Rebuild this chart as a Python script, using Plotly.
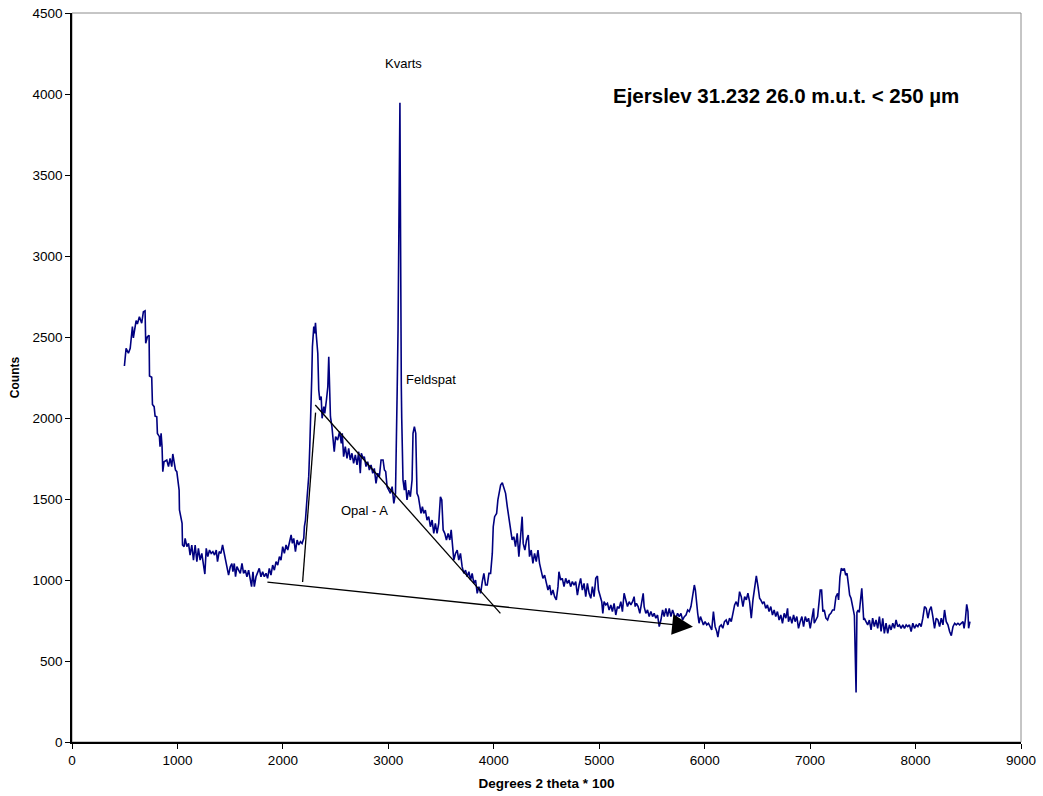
import plotly.graph_objects as go

# Diffractogram, Ejerslev 31.232, 26.0 m.u.t., fraction < 250 µm
two_theta_x100 = [
    497, 513, 535, 552, 573, 582, 608, 620, 639, 661, 677, 693, 699, 715, 731, 735, 756, 763, 779, 788,
    804, 810, 829, 835, 845, 854, 861, 873, 899, 915, 930, 946, 956, 968, 981, 994, 1003, 1016, 1019, 1035,
    1044, 1048, 1063, 1073, 1089, 1105, 1120, 1136, 1152, 1168, 1184, 1199, 1215, 1231, 1247, 1260, 1273, 1288, 1304, 1320,
    1336, 1352, 1368, 1380, 1396, 1412, 1428, 1444, 1456, 1469, 1485, 1501, 1516, 1526, 1539, 1551, 1564, 1580, 1596, 1612,
    1627, 1643, 1659, 1675, 1691, 1703, 1716, 1729, 1745, 1760, 1776, 1792, 1808, 1824, 1840, 1855, 1871, 1887, 1903, 1919,
    1935, 1951, 1967, 1982, 1998, 2014, 2030, 2046, 2062, 2078, 2090, 2103, 2119, 2135, 2150, 2166, 2182, 2198, 2204, 2214,
    2230, 2245, 2255, 2268, 2274, 2280, 2293, 2302, 2309, 2318, 2331, 2340, 2350, 2363, 2372, 2388, 2397, 2413, 2426, 2435,
    2445, 2451, 2465, 2474, 2487, 2500, 2519, 2538, 2554, 2563, 2576, 2592, 2608, 2624, 2639, 2655, 2671, 2687, 2703, 2719,
    2734, 2744, 2760, 2772, 2788, 2804, 2820, 2836, 2852, 2867, 2883, 2899, 2915, 2931, 2950, 2963, 2975, 2988, 3004, 3020,
    3036, 3052, 3068, 3077, 3084, 3092, 3100, 3106, 3110, 3113, 3116, 3119, 3123, 3127, 3132, 3139, 3152, 3161, 3177, 3193,
    3209, 3225, 3234, 3247, 3260, 3272, 3285, 3298, 3310, 3323, 3336, 3351, 3367, 3383, 3399, 3415, 3431, 3446, 3462, 3478,
    3494, 3507, 3520, 3535, 3551, 3567, 3583, 3596, 3608, 3621, 3637, 3653, 3668, 3684, 3700, 3716, 3732, 3748, 3764, 3780,
    3795, 3811, 3827, 3843, 3859, 3875, 3891, 3906, 3922, 3938, 3954, 3970, 3986, 3995, 4008, 4027, 4039, 4052, 4065, 4081,
    4096, 4112, 4128, 4144, 4158, 4174, 4190, 4206, 4222, 4238, 4254, 4269, 4279, 4295, 4311, 4327, 4339, 4355, 4371, 4387,
    4403, 4419, 4434, 4450, 4466, 4482, 4498, 4514, 4530, 4545, 4561, 4577, 4593, 4609, 4618, 4634, 4650, 4666, 4682, 4698,
    4713, 4729, 4745, 4761, 4777, 4793, 4809, 4824, 4840, 4856, 4872, 4888, 4904, 4920, 4935, 4951, 4967, 4983, 4993, 5008,
    5024, 5034, 5046, 5062, 5078, 5094, 5110, 5125, 5141, 5157, 5173, 5189, 5205, 5220, 5236, 5252, 5268, 5284, 5300, 5316,
    5331, 5341, 5353, 5369, 5385, 5401, 5417, 5426, 5442, 5458, 5474, 5490, 5506, 5521, 5537, 5553, 5569, 5585, 5601, 5616,
    5632, 5648, 5664, 5680, 5696, 5712, 5727, 5743, 5759, 5775, 5791, 5807, 5823, 5839, 5854, 5870, 5886, 5902, 5912, 5922,
    5934, 5947, 5960, 5972, 5988, 6004, 6020, 6036, 6051, 6067, 6083, 6099, 6115, 6125, 6141, 6157, 6172, 6188, 6204, 6220,
    6236, 6252, 6268, 6284, 6299, 6315, 6331, 6347, 6363, 6379, 6395, 6410, 6426, 6442, 6458, 6474, 6490, 6506, 6521, 6532,
    6548, 6563, 6579, 6595, 6611, 6627, 6643, 6659, 6674, 6690, 6706, 6722, 6738, 6754, 6770, 6786, 6795, 6811, 6827, 6843,
    6858, 6874, 6890, 6906, 6922, 6938, 6954, 6970, 6985, 7001, 7017, 7033, 7039, 7055, 7071, 7087, 7096, 7109, 7121, 7134,
    7150, 7166, 7181, 7197, 7213, 7229, 7245, 7261, 7270, 7283, 7296, 7312, 7324, 7337, 7350, 7362, 7375, 7388, 7400, 7413,
    7420, 7428, 7436, 7444, 7455, 7466, 7478, 7490, 7500, 7508, 7514, 7530, 7546, 7562, 7578, 7593, 7609, 7625, 7641, 7657,
    7673, 7689, 7704, 7720, 7736, 7752, 7768, 7784, 7800, 7815, 7831, 7847, 7863, 7879, 7895, 7911, 7926, 7942, 7958, 7974,
    7990, 8006, 8022, 8037, 8053, 8069, 8085, 8101, 8117, 8133, 8148, 8164, 8180, 8196, 8212, 8228, 8244, 8260, 8275, 8291,
    8307, 8323, 8339, 8355, 8371, 8386, 8402, 8418, 8434, 8450, 8460, 8472, 8485, 8497, 8503, 8516,
]

counts = [
    2321, 2430, 2400, 2430, 2564, 2494, 2601, 2580, 2625, 2585, 2656, 2662, 2461, 2502, 2510, 2259, 2251, 2084, 2070, 2012,
    2008, 1905, 1885, 1823, 1905, 1823, 1669, 1730, 1741, 1700, 1751, 1700, 1778, 1720, 1679, 1669, 1617, 1555, 1432, 1370,
    1350, 1216, 1206, 1257, 1206, 1226, 1154, 1216, 1123, 1216, 1113, 1195, 1123, 1164, 1102, 1037, 1195, 1144, 1185, 1164,
    1175, 1154, 1185, 1113, 1175, 1164, 1216, 1164, 1133, 1082, 1030, 1082, 1102, 1051, 1102, 1020, 1082, 1061, 1041, 1102,
    1041, 1061, 1020, 1061, 1010, 959, 1051, 959, 1020, 1041, 1072, 1020, 1051, 1020, 1041, 1010, 1072, 1030, 1092, 1061,
    1113, 1092, 1144, 1123, 1206, 1164, 1216, 1185, 1226, 1278, 1226, 1257, 1175, 1247, 1216, 1237, 1226, 1257, 1329, 1370,
    1514, 1638, 1823, 2050, 2255, 2440, 2564, 2523, 2588, 2502, 2400, 2173, 2111, 2132, 1998, 2070, 2029, 2111, 2193, 2378,
    2173, 2008, 1947, 1864, 1792, 1885, 1864, 1916, 1843, 1905, 1761, 1823, 1751, 1813, 1741, 1782, 1720, 1772, 1710, 1792,
    1659, 1782, 1751, 1761, 1700, 1730, 1679, 1710, 1659, 1689, 1597, 1659, 1638, 1741, 1741, 1679, 1669, 1576, 1555, 1535,
    1576, 1473, 1535, 1802, 2173, 2540, 3360, 3700, 3946, 3500, 2600, 2250, 2200, 2000, 1741, 1617, 1555, 1617, 1494, 1555,
    1514, 1617, 1905, 1947, 1905, 1535, 1514, 1453, 1411, 1453, 1411, 1432, 1370, 1391, 1329, 1370, 1288, 1350, 1288, 1350,
    1514, 1494, 1309, 1288, 1247, 1288, 1247, 1309, 1206, 1123, 1164, 1185, 1123, 1164, 1082, 1041, 1061, 1020, 1051, 1000,
    1041, 979, 1000, 918, 959, 918, 990, 1041, 969, 969, 1041, 1041, 1164, 1329, 1391, 1411, 1494, 1555, 1586, 1600,
    1566, 1535, 1453, 1391, 1309, 1247, 1267, 1206, 1288, 1144, 1267, 1391, 1226, 1185, 1247, 1278, 1144, 1185, 1103, 1164,
    1113, 1185, 1103, 1051, 1010, 1030, 979, 938, 969, 907, 938, 897, 877, 959, 1051, 1000, 1010, 959, 1010, 979,
    1000, 959, 990, 969, 990, 907, 969, 1010, 938, 979, 897, 979, 918, 887, 959, 897, 1010, 1025, 938, 897,
    866, 794, 866, 846, 856, 815, 846, 805, 856, 784, 836, 825, 866, 805, 918, 877, 836, 866, 846, 866,
    897, 836, 856, 836, 794, 856, 918, 836, 794, 815, 774, 805, 774, 794, 764, 784, 712, 753, 815, 774,
    825, 774, 825, 774, 815, 784, 764, 794, 774, 794, 753, 774, 784, 815, 805, 836, 897, 969, 938, 856,
    794, 733, 774, 753, 723, 743, 723, 733, 712, 692, 805, 712, 682, 647, 712, 723, 702, 743, 753, 723,
    764, 743, 794, 846, 866, 836, 928, 897, 836, 897, 877, 918, 866, 764, 877, 959, 1025, 959, 887, 877,
    856, 866, 825, 846, 805, 836, 784, 815, 774, 805, 753, 784, 733, 794, 764, 825, 743, 774, 733, 784,
    743, 774, 702, 743, 774, 712, 774, 743, 764, 702, 774, 825, 733, 753, 774, 877, 938, 938, 805, 815,
    764, 753, 784, 794, 815, 815, 897, 918, 877, 1020, 1072, 1061, 1072, 1030, 1041, 979, 907, 887, 856, 805,
    780, 560, 305, 800, 815, 800, 877, 948, 846, 753, 764, 743, 723, 753, 692, 764, 712, 753, 702, 774,
    682, 764, 671, 733, 671, 723, 692, 733, 702, 753, 712, 723, 702, 723, 702, 723, 712, 723, 682, 733,
    702, 723, 712, 733, 712, 764, 836, 825, 764, 815, 836, 774, 702, 764, 753, 712, 764, 723, 815, 743,
    723, 682, 657, 712, 733, 723, 733, 723, 733, 743, 702, 753, 850, 805, 702, 743,
]

# Construction lines: baseline under the opal hump and its two flanks
baseline = {"x0": 1839, "y0": 988, "x1": 5889, "y1": 712}
left_flank = {"x0": 2187, "y0": 988, "x1": 2310, "y1": 2033}
right_flank = {"x0": 2307, "y0": 2080, "x1": 4063, "y1": 794}

FONT = "Liberation Sans, Arial, sans-serif"

fig = go.Figure()
fig.add_trace(go.Scatter(
    x=two_theta_x100, y=counts, mode="lines",
    line=dict(color="#000080", width=1.6),
    showlegend=False, hoverinfo="x+y",
))

line_style = dict(color="black", width=1.3)
for seg in (left_flank, right_flank):
    fig.add_shape(type="line", xref="x", yref="y", line=line_style, **seg)

# baseline with filled arrow head at its right end
fig.add_annotation(
    x=baseline["x1"], y=baseline["y1"], ax=baseline["x0"], ay=baseline["y0"],
    xref="x", yref="y", axref="x", ayref="y",
    text="", showarrow=True, arrowhead=2, arrowsize=3.2, arrowwidth=1.3,
    arrowcolor="black",
)

labels = [
    dict(text="Kvarts", x=3142, y=4191, xanchor="center"),
    dict(text="Feldspat", x=3152, y=2235, xanchor="left"),
    dict(text="Opal - A", x=2772, y=1432, xanchor="center"),
]
for lab in labels:
    fig.add_annotation(
        x=lab["x"], y=lab["y"], xref="x", yref="y", text=lab["text"],
        xanchor=lab["xanchor"], yanchor="middle", showarrow=False,
        font=dict(family=FONT, size=13, color="black"),
    )

fig.add_annotation(
    x=6769, y=3988, xref="x", yref="y",
    text="<b>Ejerslev 31.232 26.0 m.u.t. &lt; 250 µm</b>",
    showarrow=False, xanchor="center", yanchor="middle",
    font=dict(family=FONT, size=20.5, color="black"),
)

# grey frame around the plotting area
fig.add_shape(type="rect", xref="paper", yref="paper", x0=0, y0=0, x1=1, y1=1,
              line=dict(color="#8c8c8c", width=1), layer="below")

axis_common = dict(
    showgrid=False, zeroline=False, showline=True, linecolor="black", linewidth=1.5,
    ticks="outside", ticklen=5, tickwidth=1.3, tickcolor="black", automargin=False,
    tickfont=dict(family=FONT, size=13.5, color="black"),
)

fig.update_xaxes(range=[0, 9000], tick0=0, dtick=1000,
                 title=dict(text="<b>Degrees 2 theta * 100</b>", standoff=12,
                            font=dict(family=FONT, size=13.5, color="black")),
                 **axis_common)
fig.update_yaxes(range=[0, 4500], tick0=0, dtick=500,
                 title=dict(text="<b>Counts</b>", standoff=10,
                            font=dict(family=FONT, size=12, color="black")),
                 **axis_common)

fig.update_layout(
    width=1043, height=796,
    margin=dict(l=72, r=22, t=13, b=54, autoexpand=False),
    paper_bgcolor="white", plot_bgcolor="white",
    font=dict(family=FONT, color="black"),
)

fig.write_html("out.html")
